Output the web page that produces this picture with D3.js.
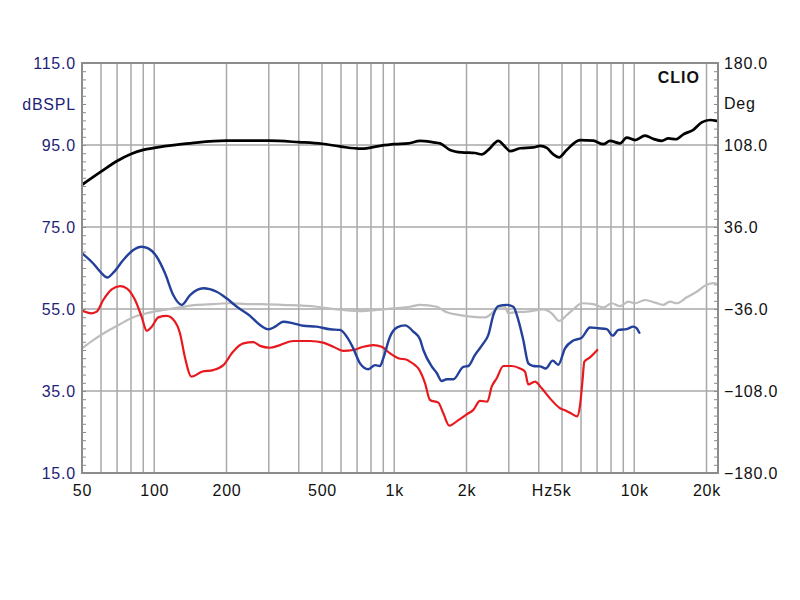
<!DOCTYPE html>
<html>
<head>
<meta charset="utf-8">
<script src="https://cdn.jsdelivr.net/npm/d3@7/dist/d3.min.js"></script>
<style>
  html, body { margin: 0; padding: 0; background: #fff; }
  svg text { font-family: "Liberation Sans", Arial, sans-serif; }
</style>
</head>
<body>
<svg id="chart" width="800" height="600"></svg>
<script>
// ---------- data ----------
const freqTicks = [50, 100, 200, 500, 1000, 2000, 5000, 10000, 20000];
const freqLabels = ["50", "100", "200", "500", "1k", "2k", "Hz5k", "10k", "20k"];
const gridFreqs = [60, 70, 80, 90, 100, 200, 300, 400, 500, 600, 700, 800, 900,
  1000, 2000, 3000, 4000, 5000, 6000, 7000, 8000, 9000, 10000, 20000];
const dbTicks = [15, 35, 55, 75, 95, 115];
const degTicks = [-180, -108, -36, 36, 108, 180];
const leftUnit = "dBSPL";
const rightUnit = "Deg";
const brand = "CLIO";

// [frequency Hz, dB]
const blackCurve = [[50,85.3],[60,88.5],[70,91.1],[80,92.8],[90,93.8],[100,94.3],[130,95.2],[150,95.6],
  [200,96.05],[300,96.05],[400,95.7],[500,95.3],[600,94.6],[730,94.1],[872,94.8],[998,95.2],
  [1145,95.4],[1280,96],[1455,95.65],[1551,95.4],[1707,93.8],[1910,93.2],[2170,93.05],[2315,92.7],
  [2466,93.8],[2713,96],[2894,94.6],[3036,93.5],[3342,94.2],[3797,94.4],[4050,94.8],[4320,94.3],
  [4600,92.7],[4858,92],[5230,93.8],[5943,96.2],[6750,96.05],[7431,95.2],[7924,96],[8724,95.4],
  [9306,96.8],[10075,96.2],[11086,97.3],[12010,96.5],[13015,96],[13870,96.6],[14930,96.4],
  [16010,97.6],[17620,98.7],[19100,100.5],[20690,101.1],[22060,100.9]];

const grayCurve = [[50,45.4],[55.7,47.4],[63.4,49.5],[72,51.3],[81.8,53],[93,53.95],[109,54.75],
  [128,55.4],[150,56],[176,56.2],[207,56.4],[243,56.2],[276,56.2],[345,56],[475,55.55],[576,54.9],
  [720,54.5],[845,54.75],[1024,55.2],[1163,55.55],[1280,56],[1503,55.55],[1654,54.2],[1879,53.5],
  [2135,53.1],[2389,52.95],[2547,53.95],[2713,55.55],[2894,55.55],[2988,53.95],[3134,54.2],
  [3564,54.35],[4180,54.9],[4530,53.95],[4871,52.1],[5230,53.5],[5574,54.9],[6040,56.4],
  [6750,56.2],[7431,55.4],[8055,56.4],[8724,55.7],[9445,56.8],[10075,56.4],[11086,57.2],
  [12200,56.55],[13200,56],[14090,56.8],[15030,56.4],[16540,57.85],[18210,59.2],[19720,60.7],
  [21350,61.3],[22330,61.0]];

const blueCurve = [[50,68.6],[55.7,66.1],[60.4,63.7],[63.8,62.7],[67.5,63.85],[74.3,66.95],
  [81.8,69.4],[88.6,70.2],[94.4,69.8],[102.4,67.75],[110.9,63.7],[120,58.4],[130,56.0],[141,58.4],
  [160,60.05],[182,59.2],[200,57.6],[221,55.55],[250,53.4],[276,51.1],[299,50.05],[319,50.7],
  [345,51.9],[380,51.5],[418,50.9],[475,50.7],[540,50.05],[594,49.9],[634,48.25],[675,45.4],
  [720,41.75],[780,40.3],[832,41.3],[872,41.1],[900,43],[960,48.25],[1024,50.45],[1109,51.0],
  [1200,49.5],[1280,47.6],[1322,45.0],[1432,41.0],[1503,39.4],[1577,37.45],[1654,37.85],
  [1763,37.85],[1940,40.9],[2035,41.1],[2170,43.8],[2350,46.6],[2466,48.7],[2587,53.5],
  [2713,55.7],[2942,56],[3134,55.55],[3288,52.3],[3450,47.4],[3619,41.75],[3797,41.1],
  [4050,41.0],[4276,40.5],[4574,42.4],[4826,41.4],[5145,45.4],[5574,47.3],[6040,48],[6540,50.5],
  [7085,50.3],[7680,50.1],[8134,48.5],[8582,49.9],[9306,50.1],[9910,50.7],[10240,50.3],[10500,49.2]];

const redCurve = [[50,54.6],[54.9,53.95],[57.6,54.35],[61.3,57.2],[66.5,59.8],[72,60.6],[76.8,60.05],
  [83.2,57.2],[88.6,53.1],[93,49.7],[97.6,50.7],[104,52.95],[112.7,53.3],[122,51.9],[128,49.1],
  [134,43.4],[143,38.5],[158,39.7],[176,40.1],[194,41.3],[213,44.6],[235,46.6],[259,46.9],
  [276,46.0],[303,45.55],[334,46.2],[380,47.2],[446,47.2],[506,46.8],[557,45.8],[613,44.8],
  [675,45],[743,45.8],[818,46.2],[886,45.8],[960,44.2],[1040,43],[1127,42.6],[1163,42.15],
  [1220,41.3],[1260,40.5],[1343,36.9],[1409,32.8],[1526,32.15],[1601,29.55],[1696,26.55],
  [1849,27.9],[2004,29.3],[2135,30.4],[2277,32.6],[2442,32.4],[2547,36.05],[2672,38.1],
  [2847,41.1],[3086,41.1],[3342,40.5],[3506,39.7],[3619,36.6],[3859,37.3],[4115,35.65],
  [4456,33.2],[4905,30.8],[5195,30.2],[5503,29.4],[5774,28.8],[5943,31.5],[6085,37.5],
  [6195,42.15],[6540,43.2],[7015,45]];

// ---------- layout ----------
const svg = d3.select("#chart");
const L = 82, R = 718, T = 63, B = 473;
const x = d3.scaleLog().domain([50, 22330]).range([L, R]);
const y = d3.scaleLinear().domain([15, 115]).range([B, T]);
const yDeg = d3.scaleLinear().domain([-180, 180]).range([B, T]);

const gridColor = "#a9a9a9";

// vertical grid
svg.append("g").selectAll("line").data(gridFreqs).join("line")
  .attr("x1", d => x(d)).attr("x2", d => x(d))
  .attr("y1", T).attr("y2", B)
  .attr("stroke", gridColor).attr("stroke-width", 1.5);

// horizontal grid
svg.append("g").selectAll("line").data(dbTicks.slice(1, -1)).join("line")
  .attr("x1", L).attr("x2", R)
  .attr("y1", d => y(d)).attr("y2", d => y(d))
  .attr("stroke", gridColor).attr("stroke-width", 1.5);

// minor ticks inside borders
const minorLeft = svg.append("g").attr("transform", `translate(${L},0)`)
  .call(d3.axisRight(y).tickValues(d3.range(17, 115, 2)).tickSize(4).tickFormat(""));
const minorRight = svg.append("g").attr("transform", `translate(${R},0)`)
  .call(d3.axisLeft(yDeg).tickValues(d3.range(-172.8, 180, 7.2)).tickSize(4).tickFormat(""));
[minorLeft, minorRight].forEach(g => {
  g.select(".domain").remove();
  g.selectAll("line").attr("stroke", "#8c8c8c").attr("stroke-width", 1);
});

// curves
const line = d3.line().x(d => x(d[0])).y(d => y(d[1])).curve(d3.curveMonotoneX);
svg.append("clipPath").attr("id", "plotclip")
  .append("rect").attr("x", L).attr("y", T).attr("width", R - L).attr("height", B - T);
const curves = svg.append("g").attr("clip-path", "url(#plotclip)");
[
  [grayCurve, "#bdbdbd", 2.2],
  [redCurve, "#e8191e", 2.2],
  [blueCurve, "#23409a", 2.4],
  [blackCurve, "#000000", 2.7]
].forEach(([data, color, w]) => {
  curves.append("path").datum(data).attr("d", line)
    .attr("fill", "none").attr("stroke", color).attr("stroke-width", w)
    .attr("stroke-linejoin", "round").attr("stroke-linecap", "round");
});

// border
svg.append("rect").attr("x", L).attr("y", T).attr("width", R - L).attr("height", B - T)
  .attr("fill", "none").attr("stroke", "#8c8c8c").attr("stroke-width", 2);

// left axis labels
const fmt = d3.format(".1f");
const leftAxis = svg.append("g").attr("transform", `translate(${L},0)`)
  .call(d3.axisLeft(y).tickValues(dbTicks).tickSize(0).tickPadding(6).tickFormat(fmt));
leftAxis.select(".domain").remove();
leftAxis.selectAll("text").attr("fill", "#1f2378").style("font-size", "16px")
  .style("letter-spacing", "0.8px").attr("dy", "0.35em");

svg.append("text").attr("x", L - 6).attr("y", 110).attr("text-anchor", "end")
  .attr("fill", "#1f2378").style("font-size", "16px").style("letter-spacing", "0.8px")
  .text(leftUnit);

// right axis labels
const rightAxis = svg.append("g").attr("transform", `translate(${R},0)`)
  .call(d3.axisRight(yDeg).tickValues(degTicks).tickSize(0).tickPadding(6).tickFormat(fmt));
rightAxis.select(".domain").remove();
rightAxis.selectAll("text").attr("fill", "#111").style("font-size", "16px")
  .style("letter-spacing", "0.8px").attr("dy", "0.35em");

svg.append("text").attr("x", R + 6).attr("y", 109).attr("text-anchor", "start")
  .attr("fill", "#111").style("font-size", "16px").style("letter-spacing", "0.8px")
  .text(rightUnit);

// bottom axis labels
const bottom = svg.append("g").attr("transform", `translate(0,${B})`)
  .call(d3.axisBottom(x).tickValues(freqTicks).tickSize(0).tickPadding(12)
    .tickFormat((d, i) => freqLabels[i]));
bottom.select(".domain").remove();
bottom.selectAll("text").attr("fill", "#111").style("font-size", "16px")
  .style("letter-spacing", "0.8px")
  .attr("dy", "0.71em")
  .filter(d => d === 5000)
  .attr("text-anchor", "end")
  .attr("dx", "9");

// brand
svg.append("text").attr("x", 700).attr("y", 83).attr("text-anchor", "end")
  .attr("fill", "#111").style("font-size", "16px").style("font-weight", "bold")
  .style("letter-spacing", "1px").text(brand);
</script>
</body>
</html>
